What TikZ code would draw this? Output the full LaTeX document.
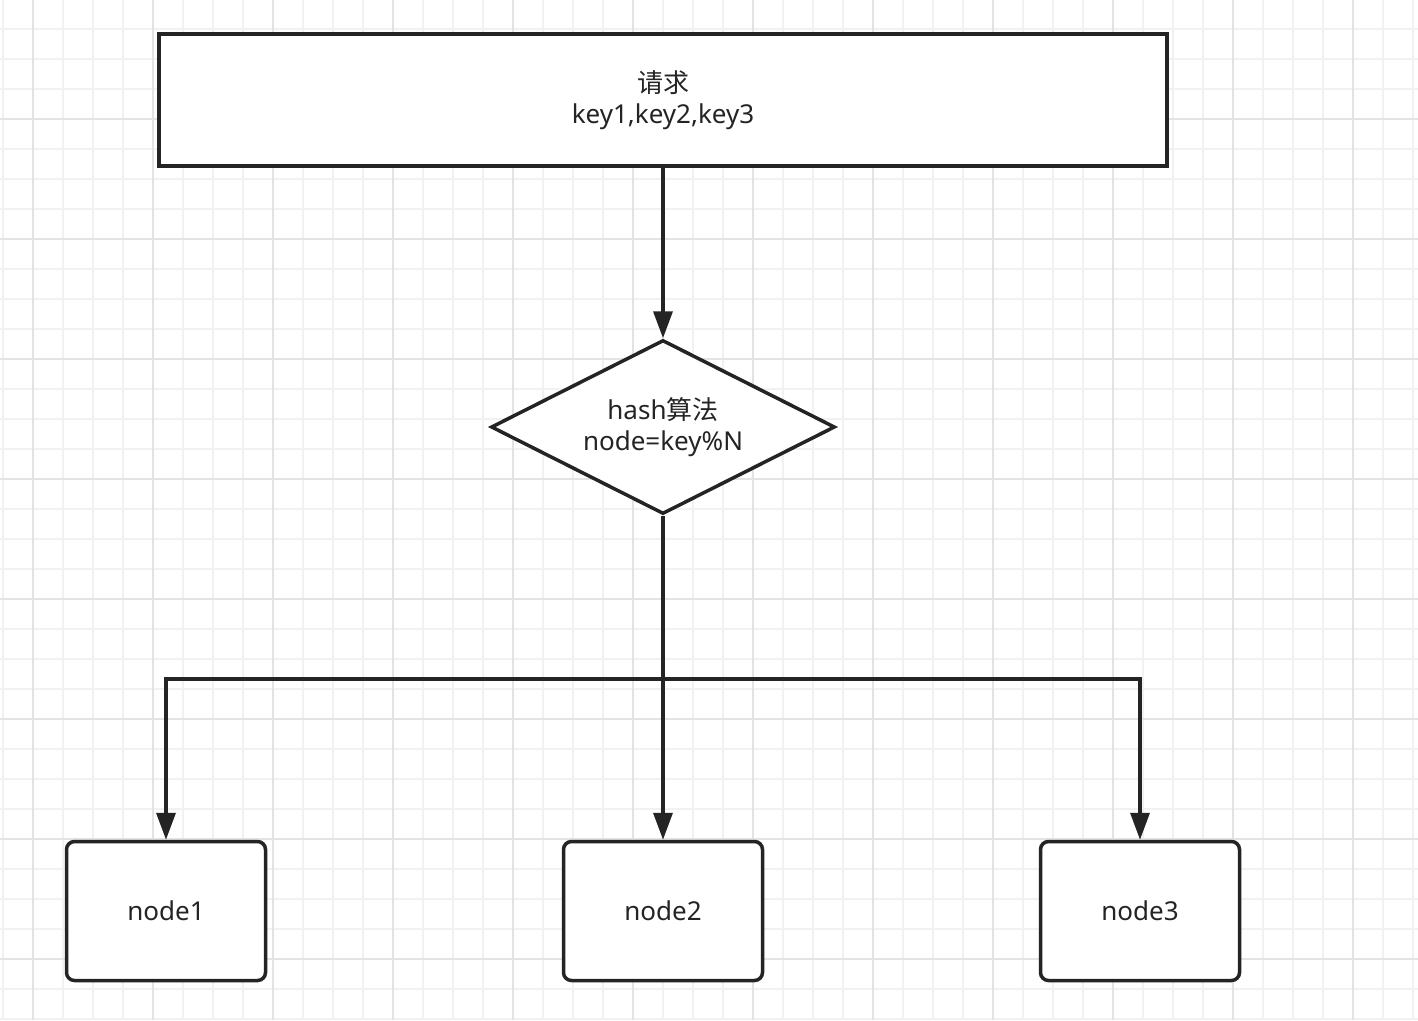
\documentclass[tikz,border=0pt]{standalone}
\usepackage{fontspec}
\setmainfont{Noto Sans}
\newfontfamily\cjk{Noto Sans CJK SC}
\usetikzlibrary{shapes.geometric,arrows.meta}

\definecolor{ink}{HTML}{242424}
\definecolor{gridminor}{HTML}{F1F1F1}
\definecolor{gridmajor}{HTML}{E3E3E3}

\tikzset{
  box/.style={draw=ink, line width=3.5pt, fill=white, text=ink, align=center,
    font=\fontsize{26}{31}\selectfont},
  request/.style={box, minimum width=1008pt, minimum height=132pt},
  hashbox/.style={box, diamond, aspect=1.97, minimum width=344pt, minimum height=174pt, inner sep=0pt},
  server/.style={box, rounded corners=8pt, minimum width=199pt, minimum height=139pt},
  link/.style={draw=ink, line width=3.5pt},
  arr/.style={link, -{Triangle[length=27pt,width=19pt]}},
}

\begin{document}
\begin{tikzpicture}[x=1pt,y=-1pt]

    \useasboundingbox (0,0) rectangle (1418,1020);
    \fill[white] (0,0) rectangle (1418,1020);

    % background grid
    \foreach \gx in {3,33,...,1413}
        \draw[gridminor, line width=1.5pt] (\gx,0) -- (\gx,1020);
    \foreach \gy in {-1,29,...,1019}
        \draw[gridminor, line width=1.5pt] (0,\gy) -- (1418,\gy);
    \foreach \gx in {33,153,...,1353}
        \draw[gridmajor, line width=1.5pt] (\gx,0) -- (\gx,1020);
    \foreach \gy in {119,239,...,959}
        \draw[gridmajor, line width=1.5pt] (0,\gy) -- (1418,\gy);

    \node[request] (req) at (663,100) {{\cjk 请求}\\key1,key2,key3};
    \node[hashbox] (hash) at (663,427) {hash{\cjk 算法}\\node=key\%N};

    \node[server] (n1) at (166,911) {node1};
    \node[server] (n2) at (663,911) {node2};
    \node[server] (n3) at (1140,911) {node3};

    \coordinate (split) at (663,679);

    \draw[arr] (req) -- (hash);
    \draw[link] (hash) -- (split);
    \draw[arr] (split) -| (n1);
    \draw[arr] (split) -- (n2);
    \draw[arr] (split) -| (n3);

\end{tikzpicture}
\end{document}
